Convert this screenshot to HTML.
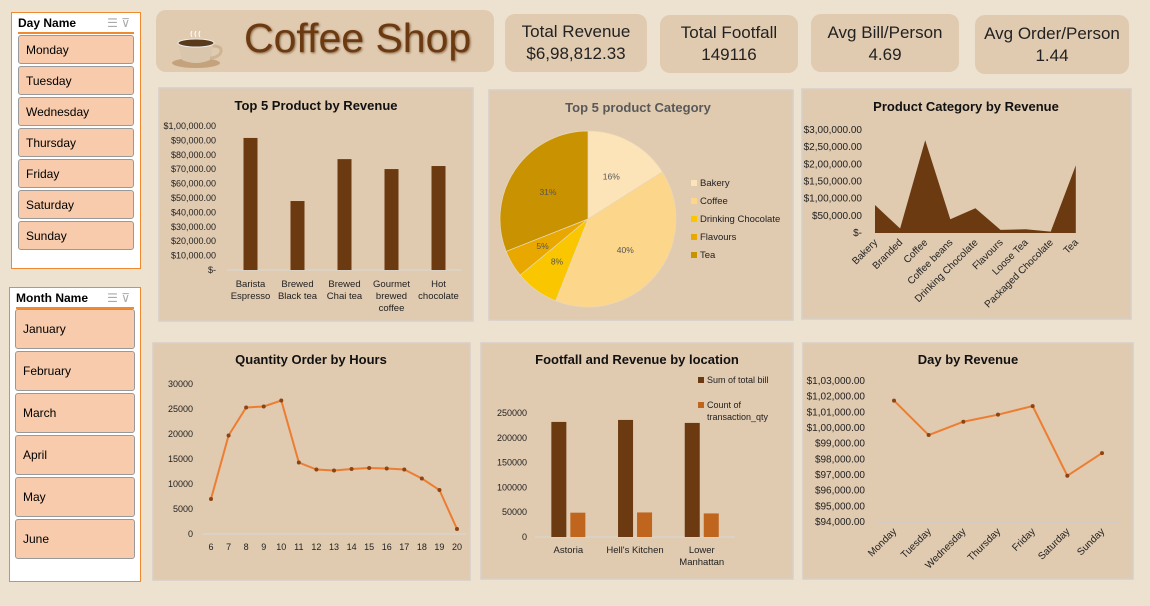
<!DOCTYPE html>
<html><head><meta charset="utf-8"><style>
body{margin:0;width:1150px;height:606px;background:#ede1d0;font-family:"Liberation Sans",sans-serif;overflow:hidden;position:relative}
.card{position:absolute;background:#e0cab0;border-radius:10px;text-align:center;font-family:"Liberation Sans Narrow","Liberation Sans",sans-serif;color:#222}
.slicer{position:absolute;background:#fff;border:1.5px solid #f08a30;box-sizing:border-box}
.sh{font-weight:bold;font-size:12px;margin:3px 6px 0;border-bottom:2px solid #f08a30;padding-bottom:2px;color:#000;position:relative}
.sh span{position:absolute;right:4px;color:#aaa;font-weight:normal}
.btn{position:absolute;background:#f7cbac;border:1px solid #999;border-radius:3px;font-size:12px;box-sizing:border-box;padding-left:7px;display:flex;align-items:center;color:#000}
svg{position:absolute;left:0;top:0}
</style></head><body>
<div class="slicer" style="left:11px;top:12px;width:130px;height:257px">
<div class="sh">Day Name<span>☰ ⊽</span></div></div>
<div class="slicer" style="left:9px;top:287px;width:132px;height:295px">
<div class="sh">Month Name<span>☰ ⊽</span></div></div>
<div id="btns"></div>
<div class="card" style="left:156px;top:10px;width:338px;height:62px">
<div style="position:absolute;left:88px;top:5px;font-size:41px;color:#6b3a10;font-family:'Liberation Sans Narrow','Liberation Sans',sans-serif;text-shadow:1px 1px 2px #8a6a4a">Coffee Shop</div>
<svg width="70" height="62" style="left:8px">
<ellipse cx="32" cy="53" rx="24" ry="5" fill="#c4a27c"/>
<path d="M14 32 L50 32 L46 50 Q32 56 18 50 Z" fill="#d9c6ad"/>
<path d="M49 36 Q60 36 56 44 Q52 48 46 48" fill="none" stroke="#cdb594" stroke-width="3"/>
<ellipse cx="32" cy="33" rx="18" ry="4" fill="#5a3a1c" stroke="#eee" stroke-width="1"/>
<path d="M28 27 q-2 -3 0 -6 M32 27 q-2 -3 0 -6 M36 27 q-2 -3 0 -6" stroke="#fff" fill="none"/>
</svg></div>
<div class="card" style="left:505px;top:14px;width:142px;height:58px"><div style="font-size:17px;margin-top:8px">Total Revenue</div><div style="font-size:17px;margin-top:2px">$6,98,812.33</div></div>
<div class="card" style="left:660px;top:15px;width:138px;height:58px"><div style="font-size:17px;margin-top:8px">Total Footfall</div><div style="font-size:17px;margin-top:2px">149116</div></div>
<div class="card" style="left:811px;top:14px;width:148px;height:58px"><div style="font-size:17px;margin-top:9px">Avg Bill/Person</div><div style="font-size:17px;margin-top:2px">4.69</div></div>
<div class="card" style="left:975px;top:15px;width:154px;height:59px"><div style="font-size:17px;margin-top:9px">Avg Order/Person</div><div style="font-size:17px;margin-top:2px">1.44</div></div>
<svg id="s" width="1150" height="606" style="font-family:'Liberation Sans Narrow','Liberation Sans',sans-serif"></svg>
<script>
const days=['Monday','Tuesday','Wednesday','Thursday','Friday','Saturday','Sunday'];
const months=['January','February','March','April','May','June'];
const prodCats=['Barista|Espresso','Brewed|Black tea','Brewed|Chai tea','Gourmet|brewed|coffee','Hot|chocolate'];
const prodVals=[91700,47900,77000,70100,72200];
const prodTicks=['$-','$10,000.00','$20,000.00','$30,000.00','$40,000.00','$50,000.00','$60,000.00','$70,000.00','$80,000.00','$90,000.00','$1,00,000.00'];
const pieCats=['Bakery','Coffee','Drinking Chocolate','Flavours','Tea'];
const pieVals=[16,40,8,5,31];
const areaCats=['Bakery','Branded','Coffee','Coffee beans','Drinking Chocolate','Flavours','Loose Tea','Packaged Chocolate','Tea'];
const areaVals=[81500,13000,270000,40000,72000,9000,11000,4000,197000];
const areaTicks=['$-','$50,000.00','$1,00,000.00','$1,50,000.00','$2,00,000.00','$2,50,000.00','$3,00,000.00'];
const hours=[6,7,8,9,10,11,12,13,14,15,16,17,18,19,20];
const qtyVals=[7000,19700,25300,25500,26700,14300,12900,12700,13000,13200,13100,12900,11100,8800,1000];
const qtyTicks=[0,5000,10000,15000,20000,25000,30000];
const locCats=['Astoria',"Hell's Kitchen",'Lower|Manhattan'];
const billVals=[232000,236000,230000];
const txVals=[49000,49500,47500];
const locTicks=[0,50000,100000,150000,200000,250000];
const dayVals=[101750,99550,100400,100850,101400,96950,98400];
const dayTicks=['$94,000.00','$95,000.00','$96,000.00','$97,000.00','$98,000.00','$99,000.00','$1,00,000.00','$1,01,000.00','$1,02,000.00','$1,03,000.00'];

const NS='http://www.w3.org/2000/svg',S=document.getElementById('s');
function el(t,a,p){const e=document.createElementNS(NS,t);for(const k in a)e.setAttribute(k,a[k]);(p||S).appendChild(e);return e;}
function tx(x,y,s,a){const e=el('text',Object.assign({x:x,y:y,'font-size':9.5,fill:'#222'},a||{}));e.textContent=s;return e;}

const B=document.getElementById('btns');
days.forEach((d,i)=>{const b=document.createElement('div');b.className='btn';b.style.cssText=`left:18px;top:${35+i*31}px;width:116px;height:29px`;b.textContent=d;


B.appendChild(b);});
months.forEach((d,i)=>{const b=document.createElement('div');b.className='btn';b.style.cssText=`left:15px;top:${309+i*42}px;width:120px;height:40px`;b.textContent=d;


B.appendChild(b);});

[[159,88,314,233,'product-revenue-panel'],[489,90,304,230,'category-pie-panel'],[802,89,329,230,'category-revenue-panel'],[153,343,317,237,'hourly-quantity-panel'],[481,343,312,236,'location-panel'],[803,343,330,236,'day-revenue-panel']].forEach(p=>{
const r=el('rect',{x:p[0],y:p[1],width:p[2],height:p[3],fill:'#e0cab0',stroke:'#d6d0c8','stroke-width':1.5});


});
function title(x,y,s,n,c){const t=tx(x,y,s,{'font-size':13,'font-weight':'bold','text-anchor':'middle',fill:c||'#111'});}

title(316,110,'Top 5 Product by Revenue','product-revenue-title');
{const y0=270,k=144/100000,x0=227,cw=47;
prodTicks.forEach((t,i)=>tx(216,y0-i*10000*k+3,t,{'text-anchor':'end','font-size':9}));
el('line',{x1:x0,x2:x0+cw*5,y1:y0,y2:y0,stroke:'#d9d9d9'});
prodVals.forEach((v,i)=>{const cx=x0+cw*(i+0.5);
const r=el('rect',{x:cx-7,y:y0-v*k,width:14,height:v*k,fill:'#6b3a10'});


prodCats[i].split('|').forEach((l,j)=>tx(cx,y0+17+j*12,l,{'text-anchor':'middle'}));});}

title(638,112,'Top 5 product Category','pie-title','#595959');
{const cx=588,cy=219,R=88,cols=['#fde4b8','#fcd68a','#f9c600','#e8a800','#c89200'];let a=0;const tot=pieVals.reduce((s,v)=>s+v,0);
pieVals.forEach((v,i)=>{const a1=a+v/tot*2*Math.PI;const p=t=>[cx+R*Math.sin(t),cy-R*Math.cos(t)];const [x1,y1]=p(a),[x2,y2]=p(a1);
const s=el('path',{d:`M${cx},${cy}L${x1},${y1}A${R},${R} 0 ${a1-a>Math.PI?1:0} 1 ${x2},${y2}Z`,fill:cols[i],stroke:'#e8d8b8','stroke-width':0.7});


const m=(a+a1)/2,rr=i==3||i==2?0.6:0.55;tx(cx+R*rr*Math.sin(m),cy-R*rr*Math.cos(m)+3,v+'%',{'text-anchor':'middle','font-size':8.5,fill:'#555'});
a=a1;
const lg=el('rect',{x:691,y:180+i*18,width:6,height:6,fill:cols[i]});


tx(700,186+i*18,pieCats[i]);});}

title(966,111,'Product Category by Revenue','category-revenue-title');
{const y0=233,k=103/300000,x0=875,dx=25.1;
areaTicks.forEach((t,i)=>tx(862,y0-i*50000*k+3,t,{'text-anchor':'end','font-size':10}));
let d=`M${x0},${y0}`;areaVals.forEach((v,i)=>d+=`L${x0+i*dx},${y0-v*k}`);d+=`L${x0+dx*8},${y0}Z`;
const ar=el('path',{d:d,fill:'#6b3a10'});
areaCats.forEach((c,i)=>{const x=x0+i*dx+3,y=y0+10;tx(x,y,c,{'text-anchor':'end','font-size':10,transform:`rotate(-45 ${x} ${y})`});});}

title(311,364,'Quantity Order by Hours','hourly-quantity-title');
{const y0=534,k=150/30000,x0=211,dx=(457-211)/14;
qtyTicks.forEach(t=>tx(193,y0-t*k+3,t,{'text-anchor':'end','font-size':9}));
el('line',{x1:202,x2:466,y1:y0,y2:y0,stroke:'#d9d9d9'});
const pts=qtyVals.map((v,i)=>[x0+i*dx,y0-v*k]);
const ln=el('polyline',{points:pts.join(' '),fill:'none',stroke:'#ed7d31','stroke-width':2});
pts.forEach(p=>el('circle',{cx:p[0],cy:p[1],r:2,fill:'#8b4513'}));
hours.forEach((h,i)=>tx(x0+i*dx,y0+16,h,{'text-anchor':'middle','font-size':9}));}

title(637,364,'Footfall and Revenue by location','location-title');
{const y0=537,k=124/250000,x0=535,cw=66.7;
locTicks.forEach(t=>tx(527,y0-t*k+3,t,{'text-anchor':'end','font-size':9}));
el('line',{x1:x0,x2:x0+cw*3,y1:y0,y2:y0,stroke:'#d9d9d9'});
locCats.forEach((c,i)=>{const cx=x0+cw*(i+0.5);
const b1=el('rect',{x:cx-17,y:y0-billVals[i]*k,width:15,height:billVals[i]*k,fill:'#6b3a10'});

const b2=el('rect',{x:cx+2,y:y0-txVals[i]*k,width:15,height:txVals[i]*k,fill:'#c0651e'});

c.split('|').forEach((l,j)=>tx(cx,y0+16+j*12,l,{'text-anchor':'middle'}));});
el('rect',{x:698,y:377,width:6,height:6,fill:'#6b3a10'});tx(707,383,'Sum of total bill',{'font-size':9});
el('rect',{x:698,y:402,width:6,height:6,fill:'#c0651e'});tx(707,408,'Count of',{'font-size':9});tx(707,420,'transaction_qty',{'font-size':9});}

title(968,364,'Day by Revenue','day-revenue-title');
{const y0=522,k=141/9000,x0=894,dx=(1102-894)/6;
dayTicks.forEach((t,i)=>tx(865,y0-i*1000*k+3,t,{'text-anchor':'end','font-size':10}));
el('line',{x1:877,x2:1121,y1:y0,y2:y0,stroke:'#c8ccd4'});
const pts=dayVals.map((v,i)=>[x0+i*dx,y0-(v-94000)*k]);
const ln=el('polyline',{points:pts.join(' '),fill:'none',stroke:'#ed7d31','stroke-width':2});
pts.forEach(p=>el('circle',{cx:p[0],cy:p[1],r:2,fill:'#8b4513'}));
days.forEach((d,i)=>{const x=x0+i*dx+3,y=y0+10;tx(x,y,d,{'text-anchor':'end','font-size':10,transform:`rotate(-45 ${x} ${y})`});});}
</script>
</body></html>
